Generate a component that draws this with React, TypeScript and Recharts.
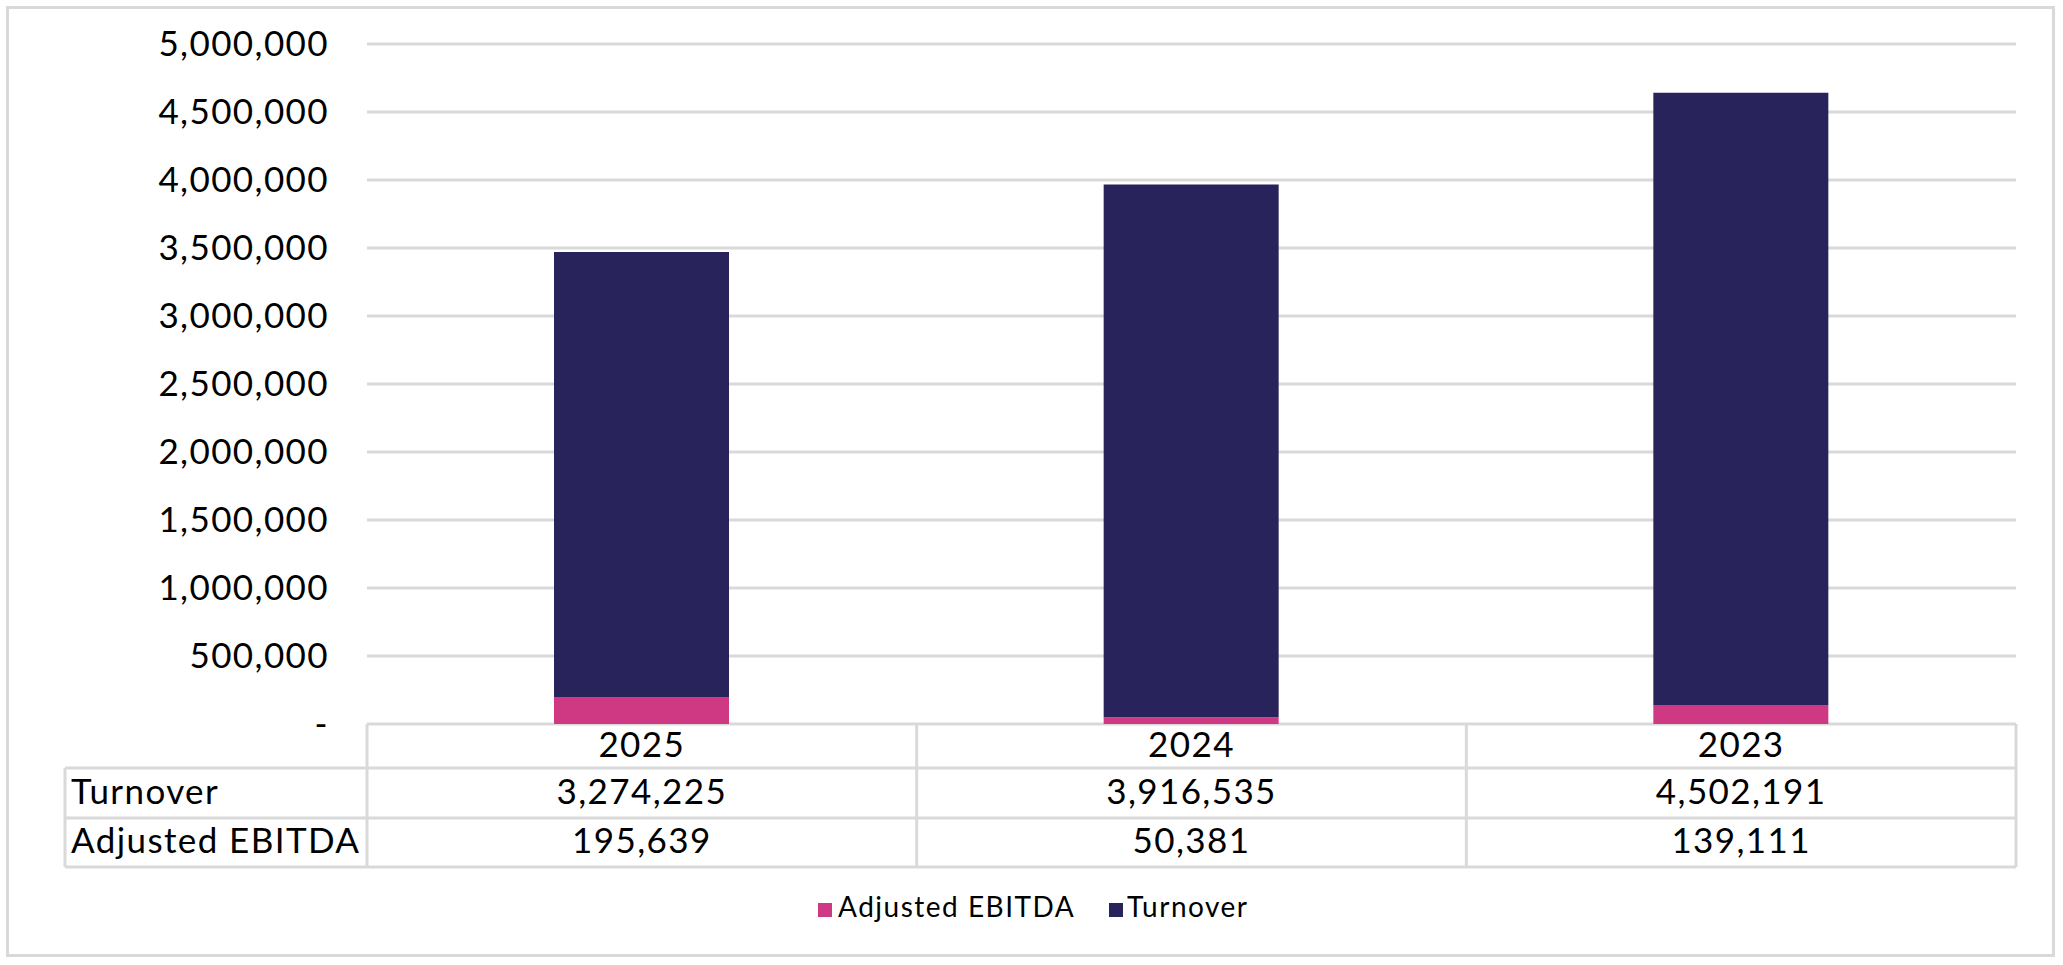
import React from 'react';
import { BarChart, Bar, XAxis, YAxis, CartesianGrid } from 'recharts';

const years = ['2025', '2024', '2023'];
const turnover = [3274225, 3916535, 4502191];
const adjustedEbitda = [195639, 50381, 139111];
const yTicks = [0, 500000, 1000000, 1500000, 2000000, 2500000, 3000000, 3500000, 4000000, 4500000, 5000000];
const rowLabels = ['Turnover', 'Adjusted EBITDA'];
const legendNames = ['Adjusted EBITDA', 'Turnover'];

const data = years.map((year, i) => ({ year, turnover: turnover[i], ebitda: adjustedEbitda[i] }));

const W = 2063;
const H = 965;
const PLOT_LEFT = 367;
const PLOT_RIGHT = 2016;
const PLOT_TOP = 44;
const PLOT_BOTTOM = 724;
const COL_W = (PLOT_RIGHT - PLOT_LEFT) / years.length;
const TABLE_LEFT = 65;
const ROW1 = 768;
const ROW2 = 818;
const ROW3 = 867;

const NAVY = '#28235a';
const PINK = '#cf3882';
const LINE = '#d9d9d9';
const FONT = 'Lato, "Noto Sans", sans-serif';
const SPACING = 1.4;

const fmt = (v: number) => v.toLocaleString('en-US');

const lineProps = { stroke: LINE, strokeWidth: 3 };
const cellText = { fontSize: 35, fill: '#000', letterSpacing: SPACING };

const TableTick = (props: any) => {
  const { payload } = props;
  const index: number = props.index ?? payload.index ?? 0;
  const cx = payload.coordinate;
  const left = cx - COL_W / 2;
  const right = cx + COL_W / 2;
  return (
    <g fontFamily={FONT}>
      {index === 0 && (
        <g>
          <line x1={TABLE_LEFT} y1={ROW1} x2={PLOT_RIGHT} y2={ROW1} {...lineProps} />
          <line x1={TABLE_LEFT} y1={ROW2} x2={PLOT_RIGHT} y2={ROW2} {...lineProps} />
          <line x1={TABLE_LEFT} y1={ROW3} x2={PLOT_RIGHT} y2={ROW3} {...lineProps} />
          <line x1={TABLE_LEFT} y1={ROW1} x2={TABLE_LEFT} y2={ROW3} {...lineProps} />
          <line x1={left} y1={PLOT_BOTTOM} x2={left} y2={ROW3} {...lineProps} />
          <text x={TABLE_LEFT + 6} y={804} {...cellText}>{rowLabels[0]}</text>
          <text x={TABLE_LEFT + 6} y={853} {...cellText}>{rowLabels[1]}</text>
          <rect x={818} y={903} width={14} height={14} fill={PINK} />
          <text x={838} y={917} fontSize={28} letterSpacing={1.5} fill="#000">{legendNames[0]}</text>
          <rect x={1109} y={903} width={14} height={14} fill={NAVY} />
          <text x={1127} y={917} fontSize={28} letterSpacing={1.5} fill="#000">{legendNames[1]}</text>
        </g>
      )}
      <line x1={right} y1={PLOT_BOTTOM} x2={right} y2={ROW3} {...lineProps} />
      <text x={cx} y={757} {...cellText} textAnchor="middle">{payload.value}</text>
      <text x={cx} y={804} {...cellText} textAnchor="middle">{fmt(turnover[index])}</text>
      <text x={cx} y={853} {...cellText} textAnchor="middle">{fmt(adjustedEbitda[index])}</text>
    </g>
  );
};

export default function App() {
  return (
    <div style={{ position: 'absolute', left: 0, top: 0, width: W, height: H, background: '#fff' }}>
      <div
        style={{
          position: 'absolute',
          left: 6,
          top: 6,
          width: W - 14,
          height: H - 14,
          border: `3px solid ${LINE}`,
          boxSizing: 'border-box',
        }}
      />
      <div style={{ position: 'absolute', left: 0, top: 0 }}>
        <BarChart
          width={W}
          height={H}
          data={data}
          margin={{ top: PLOT_TOP, right: W - PLOT_RIGHT, left: PLOT_LEFT - 300, bottom: H - PLOT_BOTTOM - 200 }}
        >
          <CartesianGrid vertical={false} stroke={LINE} strokeWidth={3} />
          <XAxis
            dataKey="year"
            height={200}
            axisLine={false}
            tickLine={false}
            interval={0}
            tick={<TableTick />}
          />
          <YAxis
            width={300}
            domain={[0, 5000000]}
            ticks={yTicks}
            interval={0}
            axisLine={false}
            tickLine={false}
            tickSize={0}
            tickMargin={38}
            tick={{ fontSize: 35, fill: '#000', fontFamily: FONT, letterSpacing: SPACING }}
            tickFormatter={(v: number) => (v === 0 ? '-' : fmt(v))}
          />
          <Bar dataKey="ebitda" stackId="a" fill={PINK} barSize={175} isAnimationActive={false} />
          <Bar dataKey="turnover" stackId="a" fill={NAVY} barSize={175} isAnimationActive={false} />
        </BarChart>
      </div>
    </div>
  );
}
